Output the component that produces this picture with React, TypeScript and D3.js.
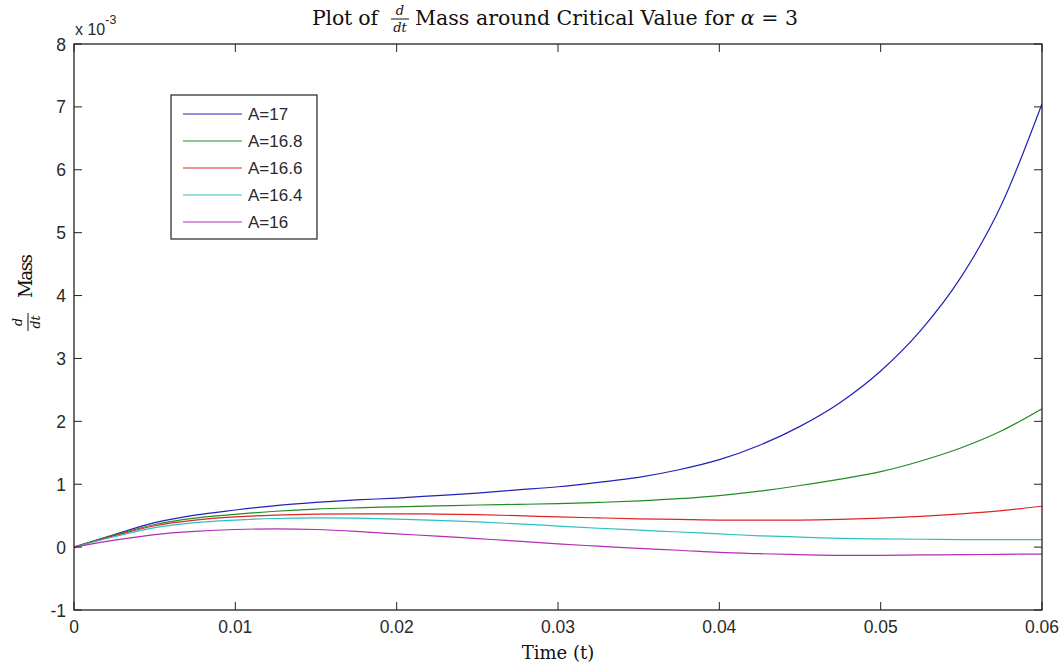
import React from "react";
import * as d3 from "d3";

const times = [0, 0.0025, 0.005, 0.0075, 0.01, 0.0125, 0.015, 0.0175, 0.02, 0.0225, 0.025, 0.0275, 0.03, 0.0325, 0.035, 0.0375, 0.04, 0.0425, 0.045, 0.0475, 0.05, 0.0525, 0.055, 0.0575, 0.06];

const seriesNames = ["A=17", "A=16.8", "A=16.6", "A=16.4", "A=16"];
const seriesColors = ["#2222b8", "#258a25", "#e02424", "#2cc0c0", "#b42cb4"];

const a17 = [0, 0.2, 0.39, 0.51, 0.59, 0.66, 0.71, 0.75, 0.78, 0.82, 0.86, 0.91, 0.96, 1.03, 1.11, 1.23, 1.39, 1.62, 1.92, 2.3, 2.8, 3.45, 4.3, 5.45, 7.05];
const a168 = [0, 0.19, 0.36, 0.46, 0.52, 0.57, 0.605, 0.625, 0.64, 0.655, 0.67, 0.68, 0.69, 0.71, 0.735, 0.77, 0.82, 0.89, 0.98, 1.08, 1.2, 1.37, 1.58, 1.85, 2.2];
const a166 = [0, 0.18, 0.34, 0.43, 0.48, 0.51, 0.525, 0.53, 0.53, 0.525, 0.515, 0.5, 0.48, 0.465, 0.45, 0.44, 0.43, 0.43, 0.43, 0.44, 0.46, 0.49, 0.53, 0.58, 0.65];
const a164 = [0, 0.165, 0.31, 0.39, 0.43, 0.455, 0.465, 0.46, 0.445, 0.425, 0.4, 0.37, 0.335, 0.3, 0.27, 0.24, 0.21, 0.18, 0.16, 0.14, 0.13, 0.125, 0.12, 0.12, 0.12];
const a16 = [0, 0.11, 0.2, 0.25, 0.28, 0.29, 0.28, 0.25, 0.21, 0.175, 0.135, 0.095, 0.05, 0.015, -0.02, -0.05, -0.085, -0.105, -0.12, -0.13, -0.13, -0.125, -0.12, -0.115, -0.11];
const seriesValues = [a17, a168, a166, a164, a16];

const xTicks = [0, 0.01, 0.02, 0.03, 0.04, 0.05, 0.06];
const yTicks = [-1, 0, 1, 2, 3, 4, 5, 6, 7, 8];

const W = 1064, H = 667;
const L = 74, R = 1042, T = 44, B = 610;
const sans = "'Liberation Sans', Arial, sans-serif";
const serif = "'DejaVu Serif', 'Liberation Serif', serif";
const txt = "#2a2a2a";

export default function App() {
  const x = d3.scaleLinear().domain([0, 0.06]).range([L, R]);
  const y = d3.scaleLinear().domain([-1, 8]).range([B, T]);
  const line = d3.line<number>().x((_, i) => x(times[i])).y((v) => y(v)).curve(d3.curveMonotoneX);
  const tick = 8;
  return (
    <svg width={W} height={H} style={{ position: "absolute", left: 0, top: 0, background: "#fff" }}>
      <rect x={0} y={0} width={W} height={H} fill="#fff" />
      <defs>
        <clipPath id="pc"><rect x={L} y={T} width={R - L} height={B - T} /></clipPath>
      </defs>
      <g clipPath="url(#pc)">
        {seriesValues.map((vals, k) => (
          <path key={k} d={line(vals) || ""} fill="none" stroke={seriesColors[k]} strokeWidth={1.2} />
        ))}
      </g>
      <rect x={L} y={T} width={R - L} height={B - T} fill="none" stroke="#222" strokeWidth={1.3} />
      {xTicks.map((t) => (
        <g key={"x" + t}>
          <line x1={x(t)} x2={x(t)} y1={B} y2={B - tick} stroke="#222" />
          <line x1={x(t)} x2={x(t)} y1={T} y2={T + tick} stroke="#222" />
          <text x={x(t)} y={B + 23} fontFamily={sans} fontSize={17.5} textAnchor="middle" fill={txt}>{String(t)}</text>
        </g>
      ))}
      {yTicks.map((t) => (
        <g key={"y" + t}>
          <line x1={L} x2={L + tick} y1={y(t)} y2={y(t)} stroke="#222" />
          <line x1={R} x2={R - tick} y1={y(t)} y2={y(t)} stroke="#222" />
          <text x={L - 8} y={y(t) + 6.5} fontFamily={sans} fontSize={17.5} textAnchor="end" fill={txt}>{String(t)}</text>
        </g>
      ))}
      <text x={75} y={35} fontFamily={sans} fontSize={16} fill={txt}>x 10<tspan dy={-11} fontSize={12.5}>-3</tspan></text>
      {/* title */}
      <g fontFamily={serif} fontSize={20.5} fill="#111">
        <text x={312} y={25} textLength={66}>Plot of</text>
        <text x={400} y={15} fontSize={13} fontStyle="italic" textAnchor="middle">d</text>
        <line x1={391} x2={409} y1={19} y2={19} stroke="#111" strokeWidth={1} />
        <text x={400} y={32} fontSize={13} fontStyle="italic" textAnchor="middle">dt</text>
        <text x={415} y={25} textLength={383}>Mass around Critical Value for <tspan fontStyle="italic">α</tspan> = 3</text>
      </g>
      {/* y label */}
      <g transform="translate(32,276) rotate(-90)" fontFamily={serif} fill="#111">
        <text x={-46} y={-10} fontSize={12.5} fontStyle="italic" textAnchor="middle">d</text>
        <line x1={-55} x2={-37} y1={-4} y2={-4} stroke="#111" strokeWidth={1} />
        <text x={-46} y={8} fontSize={12.5} fontStyle="italic" textAnchor="middle">dt</text>
        <text x={-22} y={0} fontSize={18.5} textLength={44}>Mass</text>
      </g>
      <text x={(L + R) / 2} y={659} fontFamily={serif} fontSize={18} textAnchor="middle" fill="#111">Time (t)</text>
      {/* legend */}
      <rect x={171} y={95} width={146} height={144} fill="#fff" stroke="#222" strokeWidth={1.2} />
      {seriesNames.map((n, k) => {
        const ly = 114 + k * 27;
        return (
          <g key={n}>
            <line x1={183} x2={242} y1={ly} y2={ly} stroke={seriesColors[k]} strokeWidth={1.2} />
            <text x={248} y={ly + 6} fontFamily={sans} fontSize={17} fill={txt}>{n}</text>
          </g>
        );
      })}
    </svg>
  );
}
